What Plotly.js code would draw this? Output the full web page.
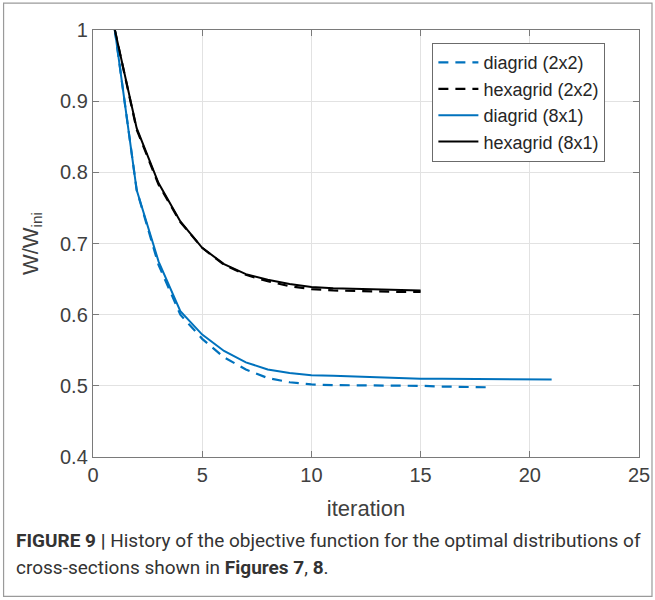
<!DOCTYPE html>
<html>
<head>
<meta charset="utf-8">
<script src="https://cdn.plot.ly/plotly-3.0.1.min.js"></script>
<style>
html,body{margin:0;padding:0;background:#fff;}
#chart{width:655px;height:600px;}
</style>
</head>
<body>
<div id="chart"></div>
<script>
// ---- data ----
const iterHex = [1,2,3,4,5,6,7,8,9,10,11,12,13,14,15];
const hexagrid2x2 = [1.0,0.860,0.783,0.730,0.694,0.670,0.656,0.647,0.640,0.636,0.634,0.633,0.632,0.632,0.632];
const hexagrid8x1 = [1.0,0.862,0.785,0.731,0.694,0.671,0.657,0.649,0.643,0.639,0.637,0.636,0.635,0.634,0.634];
const iterDia2x2 = [1,2,3,4,5,6,7,8,9,10,11,12,13,14,15,16,17,18];
const diagrid2x2 = [1.0,0.775,0.670,0.600,0.566,0.540,0.523,0.511,0.505,0.502,0.501,0.501,0.501,0.500,0.500,0.499,0.498,0.498];
const iterDia8x1 = [1,2,3,4,5,6,7,8,9,10,11,12,13,14,15,16,17,18,19,20,21];
const diagrid8x1 = [1.0,0.775,0.675,0.605,0.572,0.549,0.533,0.523,0.518,0.515,0.514,0.513,0.511,0.510,0.510,0.510,0.510,0.510,0.510,0.509,0.509];
const seriesNames = ['diagrid (2x2)','hexagrid (2x2)','diagrid (8x1)','hexagrid (8x1)'];
const xTicks = [0,5,10,15,20,25];
const yTicks = [0.4,0.5,0.6,0.7,0.8,0.9,1];
const yTickText = ['0.4','0.5','0.6','0.7','0.8','0.9','1'];

const BLUE = '#0072BD', BLACK = '#000000';
const DASH = '10px,7px';

const traces = [
  {x: iterDia2x2, y: diagrid2x2, name: seriesNames[0], mode:'lines', line:{color:BLUE, width:2.2, dash:DASH}},
  {x: iterHex, y: hexagrid2x2, name: seriesNames[1], mode:'lines', line:{color:BLACK, width:2.2, dash:DASH}},
  {x: iterDia8x1, y: diagrid8x1, name: seriesNames[2], mode:'lines', line:{color:BLUE, width:2}},
  {x: iterHex, y: hexagrid8x1, name: seriesNames[3], mode:'lines', line:{color:BLACK, width:2}}
];

const L = 92.5, R = 16, T = 30, B = 142.5;
const W = 655, H = 600;
const pw = W - L - R, ph = H - T - B;
const px2x = p => (p - L) / pw;
const py2y = p => 1 - (p - T) / ph;

const FONT = "'Liberation Sans', Arial, sans-serif";
const CAPFONT = "Roboto, 'Liberation Sans', Arial, sans-serif";

const layout = {
  width: W, height: H,
  margin: {l: L, r: R, t: T, b: B, pad: 0},
  paper_bgcolor: '#fff', plot_bgcolor: '#fff',
  font: {family: FONT, color: '#404040', size: 20},
  showlegend: true,
  legend: {
    x: px2x(432), y: py2y(43), xanchor: 'left', yanchor: 'top',
    bgcolor: '#fff', bordercolor: '#6b6b6b', borderwidth: 1.2,
    font: {family: FONT, size: 18, color: '#262626'},
    tracegroupgap: 0, itemwidth: 40
  },
  xaxis: {
    range: [0, 25], tickvals: xTicks, ticktext: xTicks.map(String),
    showline: true, mirror: 'ticks', linecolor: '#7a7a7a', linewidth: 1.2,
    ticks: 'inside', ticklen: 6, tickcolor: '#7a7a7a', tickwidth: 1,
    showgrid: true, gridcolor: '#e2e2e2', gridwidth: 1, zeroline: false,
    tickfont: {size: 20, color: '#404040'},
    title: {text: 'iteration', font: {size: 22, color: '#404040'}, standoff: 15},
    automargin: false, fixedrange: true
  },
  yaxis: {
    range: [0.4, 1], tickvals: yTicks, ticktext: yTickText,
    showline: true, mirror: 'ticks', linecolor: '#7a7a7a', linewidth: 1.2,
    ticks: 'inside', ticklen: 6, tickcolor: '#7a7a7a', tickwidth: 1,
    showgrid: true, gridcolor: '#e2e2e2', gridwidth: 1, zeroline: false,
    tickfont: {size: 20, color: '#404040'},
    title: {text: 'W/W<sub>ini</sub>', font: {size: 22, color: '#404040'}, standoff: 15},
    automargin: false, fixedrange: true
  },
  shapes: [
    {type: 'rect', xref: 'paper', yref: 'paper',
     x0: px2x(3), x1: px2x(652), y0: py2y(597), y1: py2y(3),
     line: {color: '#9a9a9a', width: 1.2}, fillcolor: 'rgba(0,0,0,0)', layer: 'below'}
  ],
  annotations: [
    {xref: 'paper', yref: 'paper', x: px2x(13), y: py2y(541), xanchor: 'left', yanchor: 'middle',
     showarrow: false, align: 'left',
     text: '<b>FIGURE 9 |</b> History of the objective function for the optimal distributions of',
     font: {family: CAPFONT, size: 19, color: '#333'}},
    {xref: 'paper', yref: 'paper', x: px2x(13), y: py2y(568), xanchor: 'left', yanchor: 'middle',
     showarrow: false, align: 'left',
     text: 'cross-sections shown in <b>Figures 7</b>, <b>8</b>.',
     font: {family: CAPFONT, size: 19, color: '#333'}}
  ]
};

Plotly.newPlot('chart', traces, layout, {staticPlot: true, displayModeBar: false});
</script>
</body>
</html>
